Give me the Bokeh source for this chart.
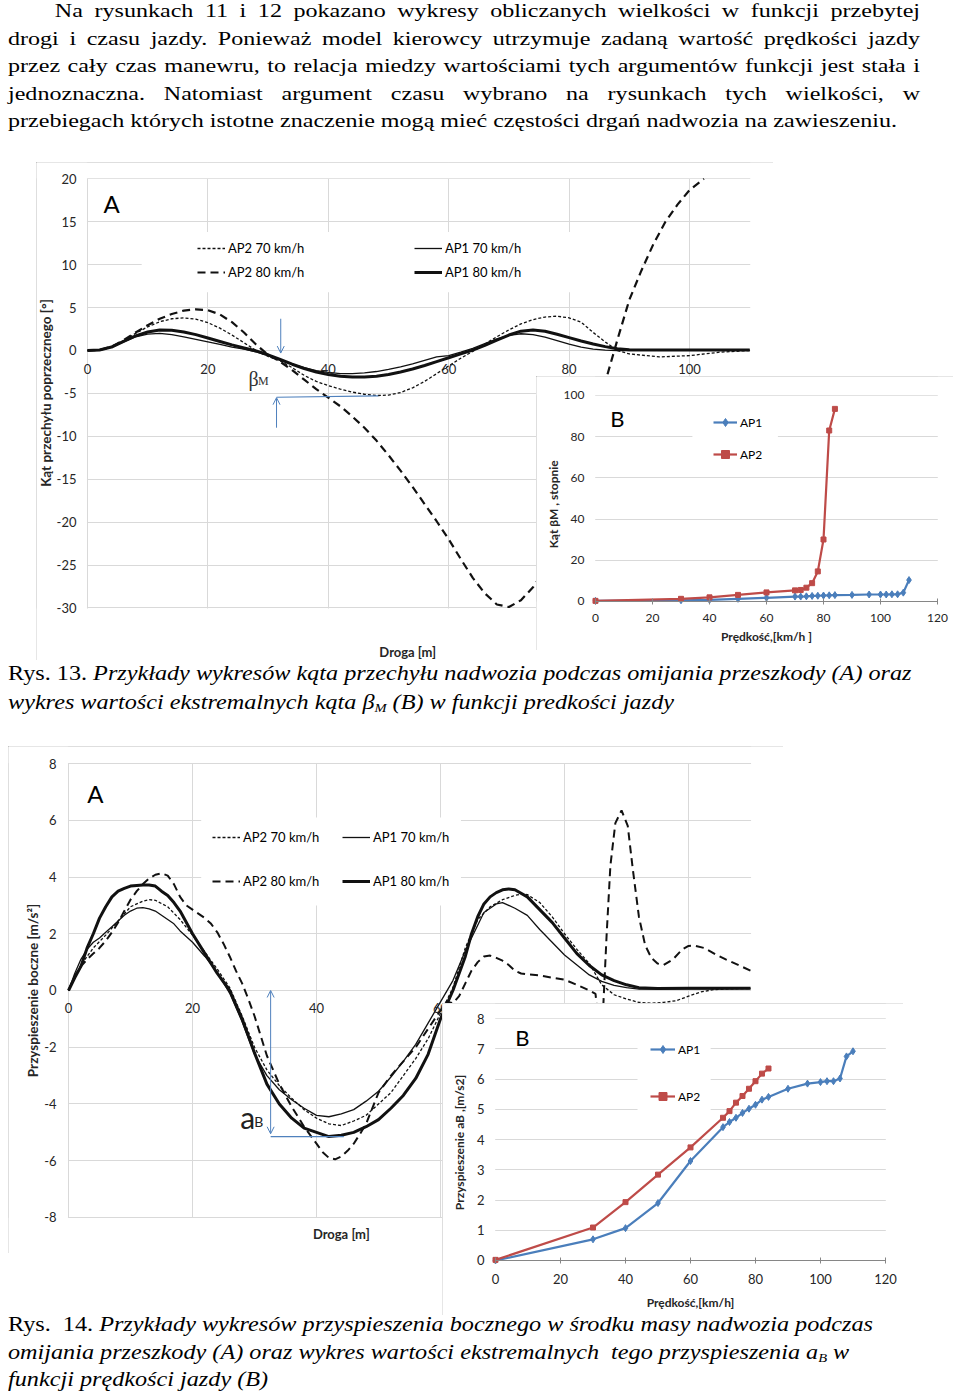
from bokeh.plotting import figure
from bokeh.models import (Range1d, LinearAxis, FixedTicker, Grid, Legend, LegendItem,
                          Label, Arrow, OpenHead, BoxAnnotation, Div)
from bokeh.layouts import column
from bokeh.embed import file_html
from bokeh.resources import INLINE

# ------------------------------------------------------------------ texts
PARA_LINES = [
    "Na rysunkach 11 i 12 pokazano wykresy obliczanych wielkości w funkcji przebytej",
    "drogi i czasu jazdy. Ponieważ model kierowcy utrzymuje zadaną wartość prędkości jazdy",
    "przez cały czas manewru, to relacja miedzy wartościami tych argumentów funkcji jest stała i",
    "jednoznaczna. Natomiast argument czasu wybrano na rysunkach tych wielkości, w",
    "przebiegach których istotne znaczenie mogą mieć częstości drgań nadwozia na zawieszeniu.",
]

# ------------------------------------------------------------------ Rys. 13 A  (kąt przechyłu vs droga)
x13 = [0, 2, 4, 6, 8, 10, 12, 14, 16, 18, 20, 22, 24, 26, 28, 30, 32, 34, 36, 38,
       40, 42, 44, 46, 48, 50, 52, 54, 56, 58, 60, 62, 64, 66, 68, 70, 72, 74, 76, 78,
       80, 82, 84, 86, 88, 90, 95, 100, 105, 110]
ap1_70_13 = [0, 0.05, 0.4, 1.0, 1.6, 1.9, 2.0, 1.85, 1.6, 1.3, 1.0, 0.7, 0.4, 0.15, -0.15,
             -0.6, -1.1, -1.6, -2.0, -2.35, -2.55, -2.7, -2.7, -2.6, -2.45, -2.2, -1.9, -1.55,
             -1.15, -0.75, -0.6, -0.2, 0.25, 0.8, 1.35, 1.75, 1.95, 1.85, 1.55, 1.15, 0.75,
             0.4, 0.15, 0.05, 0.0, 0.0, 0.02, 0.03, 0.03, 0.03]
ap1_80_13 = [0, 0.05, 0.4, 1.05, 1.7, 2.15, 2.4, 2.35, 2.15, 1.85, 1.45, 1.05, 0.65, 0.3, -0.05,
             -0.5, -1.05, -1.6, -2.1, -2.5, -2.8, -3.0, -3.1, -3.1, -3.0, -2.8, -2.5, -2.15,
             -1.75, -1.3, -0.85, -0.4, 0.05, 0.6, 1.2, 1.8, 2.25, 2.4, 2.25, 1.9, 1.5, 1.1,
             0.75, 0.45, 0.2, 0.08, 0.05, 0.05, 0.05, 0.05]
ap2_70_13 = [0, 0.05, 0.45, 1.15, 2.0, 2.75, 3.35, 3.7, 3.8, 3.65, 3.25, 2.6, 1.8, 0.9, 0.0,
             -0.7, -1.2, -2.0, -2.9, -3.6, -4.1, -4.5, -4.85, -5.1, -5.25, -5.2, -4.9, -4.35,
             -3.6, -2.7, -1.8, -0.9, -0.1, 0.75, 1.6, 2.4, 3.1, 3.6, 3.9, 4.0, 3.8, 3.3, 2.1,
             1.0, 0.0, -0.4, -0.75, -0.6, -0.2, 0.0]
x13_ap2_80 = [0, 2, 4, 6, 8, 10, 12, 14, 16, 18, 20, 22, 24, 26, 28, 30, 32, 34, 36, 38,
              40, 42, 44, 46, 48, 50, 52, 54, 56, 58, 60, 62, 64, 66, 68, 70, 72, 74, 76, 78,
              80, 82, 84, 86, 88, 90, 92, 94, 96, 98, 100, 102, 102.4]
ap2_80_13 = [0, 0.05, 0.45, 1.2, 2.1, 2.95, 3.7, 4.25, 4.65, 4.8, 4.7, 4.2, 3.3, 2.1, 0.7,
             -0.5, -1.3, -2.3, -3.4, -4.5, -5.5, -6.5, -7.7, -9.0, -10.5, -12.2, -14.0, -15.9,
             -17.9, -19.9, -22.0, -24.3, -26.5, -28.3, -29.6, -29.9, -29.1, -27.6, -25.5, -22.6,
             -18.9, -14.6, -9.8, -3.7, 1.2, 5.9, 9.3, 12.4, 15.0, 17.0, 18.7, 19.8, 20.0]
ticks13_x = [0, 20, 40, 60, 80, 100]
ticks13_y = [-30, -25, -20, -15, -10, -5, 0, 5, 10, 15, 20]

# ------------------------------------------------------------------ Rys. 13 B  (beta_M vs prędkość)
v13_ap1 = [0, 30, 40, 50, 60, 70, 72, 74, 76, 78, 80, 82, 84, 90, 96, 100, 102, 104, 106, 108, 110]
b13_ap1 = [0.3, 0.6, 0.8, 1.3, 1.8, 2.4, 2.4, 2.5, 2.7, 2.8, 2.9, 3.0, 3.1, 3.2, 3.4, 3.4, 3.4,
           3.5, 3.5, 4.3, 10.4]
v13_ap2 = [0, 30, 40, 50, 60, 70, 72, 74, 76, 78, 80, 82, 84]
b13_ap2 = [0.3, 1.3, 2.0, 3.2, 4.4, 5.4, 5.6, 6.7, 8.9, 14.6, 30.1, 83.0, 93.5]
ticks13b_x = [0, 20, 40, 60, 80, 100, 120]
ticks13b_y = [0, 20, 40, 60, 80, 100]

# ------------------------------------------------------------------ Rys. 14 A  (przyspieszenie vs droga)
x14_ap1_80 = [0, 1, 2, 3, 4, 5, 6, 7, 8, 9, 10, 11, 12, 13, 14, 15, 16, 17, 18,
              20, 22, 24, 26, 28, 30, 32, 34, 36, 38, 40, 42, 44, 46, 48, 50, 52, 54, 56, 58, 60,
              62, 64, 65, 66, 67, 68, 69, 70, 71, 72,
              74, 76, 78, 80, 82, 84, 86, 88, 90, 92, 95, 100, 105, 110]
a14_ap1_80 = [0, 0.45, 0.85, 1.5, 2.0, 2.55, 2.95, 3.3, 3.5, 3.6,
              3.68, 3.7, 3.72, 3.72, 3.68, 3.5, 3.35, 3.1, 2.8,
              2.0, 1.3, 0.6, 0.0, -1.0, -2.2, -3.3, -4.0, -4.5, -4.85,
              -5.0, -5.15, -5.1, -5.0, -4.8, -4.55, -4.15, -3.7, -3.1, -2.25, -1.0,
              0.0, 1.2, 2.0, 2.6, 3.05, 3.3, 3.45, 3.55, 3.58, 3.55,
              3.3, 2.85, 2.4, 1.85, 1.3, 0.88, 0.55, 0.35, 0.2, 0.1, 0.07, 0.08, 0.08, 0.08]
x14_ap1_70 = [0, 1, 2, 3, 4, 5, 6, 7, 8, 9, 10, 11, 12, 13, 14, 15, 16, 17, 18,
              20, 22, 24, 26, 28, 30, 32, 34, 36, 38, 40, 42, 44, 46, 48, 50, 52, 54, 56, 58, 60,
              62, 64, 66, 67, 68, 69, 70,
              72, 74, 76, 78, 80, 82, 84, 86, 88, 90, 92, 95, 100, 105, 110]
a14_ap1_70 = [0, 0.6, 1.1, 1.45, 1.7, 1.85, 2.05, 2.25, 2.45, 2.65,
              2.8, 2.9, 2.92, 2.88, 2.8, 2.65, 2.5, 2.35, 2.1,
              1.7, 1.2, 0.65, -0.1, -1.1, -2.25, -3.0, -3.5, -3.85, -4.15,
              -4.4, -4.45, -4.35, -4.2, -3.9, -3.55, -3.05, -2.5, -1.9, -1.15, -0.4,
              0.35, 1.4, 2.3, 2.75, 2.9, 3.05, 3.1,
              2.9, 2.65, 2.15, 1.7, 1.25, 0.9, 0.55, 0.32, 0.18, 0.1, 0.05, 0.05, 0.06, 0.06, 0.07]
x14_ap2_70 = [0, 2, 4, 6, 8, 10, 12, 13, 14,
              16, 18, 20, 22, 24, 26, 28, 30, 32, 34, 36, 38, 40, 42, 44, 46, 48, 50, 52, 54, 56,
              58, 60, 62, 64, 66, 68, 70, 72, 73,
              74, 76, 78, 80, 82, 84, 86, 88, 90, 92, 94, 96, 98, 100, 102, 104, 107, 110]
a14_ap2_70 = [0, 0.9, 1.5, 1.95, 2.45, 2.95, 3.15, 3.2, 3.18,
              2.95, 2.5, 1.95, 1.35, 0.75, 0.1, -0.9, -2.0, -2.8, -3.35, -3.8, -4.2, -4.5, -4.7,
              -4.76, -4.6, -4.4, -4.0, -3.6, -3.0, -2.4, -1.7, -0.8, 0.1, 1.5, 2.5, 2.95, 3.2,
              3.35, 3.4,
              3.38, 3.1, 2.6, 2.0, 1.45, 0.95, 0.2, -0.15, -0.3, -0.42, -0.45, -0.42, -0.36, -0.2,
              -0.05, 0.03, 0.06, 0.07]
x14_ap2_80 = [0, 1, 2, 3, 4, 5, 6, 7, 8, 9, 10, 11, 12, 13, 14, 15, 16, 17, 18, 19,
              20, 21, 22, 23, 24, 25, 26, 27, 28, 29, 30, 32, 34, 36, 38, 40,
              41, 42, 43, 44, 45, 46, 47, 48, 50, 52, 54, 56, 58, 60,
              61, 62, 63, 64, 65, 66, 67, 68, 69, 70, 71, 72, 73, 74, 76, 78, 80, 82, 84, 85,
              85.6, 86.2, 86.8, 87.4, 88.2, 89.2, 90.2, 91, 92, 93, 94, 95, 96,
              97.5, 99, 100, 101, 102.5, 104.3, 106, 108, 110]
a14_ap2_80 = [0, 0.5, 0.85, 1.1, 1.3, 1.5, 1.75, 2.05, 2.4, 2.8,
              3.2, 3.5, 3.75, 3.95, 4.08, 4.13, 4.05, 3.75, 3.3, 3.0,
              2.85, 2.7, 2.55, 2.35, 2.05, 1.65, 1.2, 0.7, 0.25, -0.3, -0.9,
              -2.3, -3.3, -4.1, -4.8, -5.4,
              -5.7, -5.9, -5.95, -5.85, -5.65, -5.4, -5.06, -4.7,
              -3.6, -3.0, -2.5, -2.0, -1.35, -0.7,
              -0.4, -0.45, -0.2, 0.25, 0.7, 1.0, 1.2, 1.23, 1.15, 1.05, 0.9, 0.7, 0.6, 0.57,
              0.53, 0.45, 0.38, 0.2, 0.0, -0.12,
              -1.4, -0.8, 2.0, 4.4, 5.9, 6.35, 5.8, 4.3, 2.6, 1.6, 1.15, 0.95, 0.9,
              1.1, 1.45, 1.57, 1.58, 1.5, 1.28, 1.1, 0.9, 0.7]
ticks14_x = [0, 20, 40, 60, 80, 100]
ticks14_y = [-8, -6, -4, -2, 0, 2, 4, 6, 8]

# ------------------------------------------------------------------ Rys. 14 B  (a_B vs prędkość)
v14_ap1 = [0, 30, 40, 50, 60, 70, 72, 74, 76, 78, 80, 82, 84, 90, 96, 100, 102, 104, 106, 108, 110]
a14b_ap1 = [0.0, 0.7, 1.07, 1.9, 3.29, 4.41, 4.58, 4.72, 4.88, 5.02, 5.15, 5.32, 5.41, 5.68,
            5.85, 5.9, 5.93, 5.93, 6.02, 6.75, 6.92]
v14_ap2 = [0, 30, 40, 50, 60, 70, 72, 74, 76, 78, 80, 82, 84]
a14b_ap2 = [0.02, 1.09, 1.93, 2.84, 3.74, 4.72, 4.94, 5.22, 5.44, 5.68, 5.93, 6.18, 6.35]
ticks14b_x = [0, 20, 40, 60, 80, 100, 120]
ticks14b_y = [0, 1, 2, 3, 4, 5, 6, 7, 8]

# ------------------------------------------------------------------ annotation positions (data units)
beta_arrow_down = [32.1, 3.7, 32.1, -0.3]
beta_arrow_up = [31.4, -9.0, 31.4, -5.5]
beta_line = [31.4, -5.45, 48.3, -5.3]
aB_arrow = [32.6, 0.0, 32.6, -5.05]
aB_line = [32.6, -5.15, 44.4, -5.15]

# ------------------------------------------------------------------ styles
FONT = "Lato"
GRID = "#d9d9d9"
TXT = "#262626"
AXC = "#868686"
BLUE = "#4a7ebb"
RED = "#be4b48"
ANN = "#4f81bd"
BLACK = "#111111"


def base(w, h, xr, yr, margin):
    p = figure(width=w, height=h, frame_width=w, frame_height=h,
               x_range=Range1d(*xr), y_range=Range1d(*yr),
               output_backend="svg", toolbar_location=None,
               x_axis_location=None, y_axis_location=None,
               min_border=0, min_border_left=0, min_border_right=0,
               min_border_top=0, min_border_bottom=0,
               outline_line_color=None, border_fill_color="white", background_fill_color="white",
               margin=margin,
               styles={"outline": "1px solid #a6a6a6", "outline-offset": "-1px"})
    p.grid.visible = False
    return p


def add_grid(p, dim, ticks):
    p.add_layout(Grid(dimension=dim, ticker=FixedTicker(ticks=ticks),
                      grid_line_color=GRID, grid_line_width=1))


def add_mask(p, left, right, bottom, top):
    p.add_layout(BoxAnnotation(left=left, right=right, bottom=bottom, top=top,
                               fill_color="white", fill_alpha=1, line_color=None,
                               level="underlay"))


def frame_masks(p, xr, yr, area):
    x0, x1, y0, y1 = area
    add_mask(p, xr[0], x0 - (x1 - x0) * 0.0008, yr[0], yr[1])
    add_mask(p, x1 + (x1 - x0) * 0.0008, xr[1], yr[0], yr[1])
    add_mask(p, xr[0], xr[1], yr[0], y0 - (y1 - y0) * 0.0012)
    add_mask(p, xr[0], xr[1], y1 + (y1 - y0) * 0.0012, yr[1])


def add_axis(p, side, ticks, size, standoff, bounds, label=None, lsize="12px", lstand=5,
             fixed=0, line=False, tick=False):
    ax = LinearAxis(ticker=FixedTicker(ticks=ticks), bounds=bounds, fixed_location=fixed,
                    major_label_text_font=FONT, major_label_text_font_size=size,
                    major_label_text_color=TXT, major_label_standoff=standoff,
                    major_label_overrides={t: str(t) for t in ticks if t < 0},
                    minor_tick_line_color=None, minor_tick_in=0, minor_tick_out=0,
                    axis_line_color=AXC if line else None,
                    major_tick_line_color=AXC if tick else None,
                    major_tick_in=3 if tick else 0, major_tick_out=3 if tick else 0)
    if label:
        ax.axis_label = label
        ax.axis_label_text_font = FONT
        ax.axis_label_text_font_style = "bold"
        ax.axis_label_text_font_size = lsize
        ax.axis_label_text_color = TXT
        ax.axis_label_standoff = lstand
    p.add_layout(ax, side)


def add_legend(p, items, loc, gw, gh, spacing, size):
    lg = Legend(items=[LegendItem(label=t, renderers=r) for t, r in items],
                location=loc, orientation="vertical",
                glyph_width=gw, glyph_height=gh, label_height=gh, spacing=spacing,
                padding=0, margin=0, label_standoff=3,
                label_text_font=FONT, label_text_font_size=size, label_text_color="#000",
                background_fill_alpha=0, border_line_color=None)
    p.add_layout(lg)


def text_label(p, x, y, t, size, font=FONT, style="normal", color="#000"):
    p.add_layout(Label(x=x, y=y, text=t, text_font=font, text_font_size=size,
                       text_font_style=style, text_color=color,
                       text_align="center", text_baseline="middle"))


# ================================================================== Rys. 13 A
XR13A, YR13A = (-8.47, 113.95), (-36.13, 21.91)
pA = base(737, 498, XR13A, YR13A, (26, 0, 0, 36))
add_grid(pA, 0, ticks13_x)
add_grid(pA, 1, ticks13_y)
frame_masks(pA, XR13A, YR13A, (0, 110, -30, 20))
add_mask(pA, 9, 92, 6.8, 13.8)
add_axis(pA, "left", ticks13_y, "13px", 11, (-30, 20), label="Kąt przechyłu poprzecznego [°]",
         lsize="13.5px", lstand=0)
add_axis(pA, "below", ticks13_x, "13px", 14, (0, 110))
r1 = pA.line(x13, ap2_70_13, line_color=BLACK, line_width=1.3, line_dash="3 2")
r2 = pA.line(x13_ap2_80, ap2_80_13, line_color=BLACK, line_width=2.2, line_dash="8 5")
r3 = pA.line(x13, ap1_70_13, line_color=BLACK, line_width=1.3)
r4 = pA.line(x13, ap1_80_13, line_color=BLACK, line_width=3)
add_legend(pA, [("AP2 70 km/h", [r1]), ("AP2 80 km/h", [r2])], (161, 378), 28, 20, 4, "13px")
add_legend(pA, [("AP1 70 km/h", [r3]), ("AP1 80 km/h", [r4])], (378, 378), 28, 20, 4, "13px")
text_label(pA, 4.0, 17.1, "A", "24px")
text_label(pA, 53.2, -35.1, "Droga [m]", "13px", style="bold", color=TXT)
pA.add_layout(Arrow(x_start=beta_arrow_down[0], y_start=beta_arrow_down[1],
                    x_end=beta_arrow_down[2], y_end=beta_arrow_down[3],
                    end=OpenHead(size=7, line_color=ANN, line_width=1),
                    line_color=ANN, line_width=1))
pA.add_layout(Arrow(x_start=beta_arrow_up[0], y_start=beta_arrow_up[1],
                    x_end=beta_arrow_up[2], y_end=beta_arrow_up[3],
                    end=OpenHead(size=7, line_color=ANN, line_width=1),
                    line_color=ANN, line_width=1))
pA.add_layout(Arrow(x_start=beta_line[0], y_start=beta_line[1], x_end=beta_line[2],
                    y_end=beta_line[3], end=None, line_color=ANN, line_width=1.2))
text_label(pA, 27.6, -3.3, "β", "20px", font="Liberation Serif", color="#333")
text_label(pA, 29.2, -3.6, "M", "12px", font="Liberation Serif", color="#333")

# ================================================================== Rys. 13 B
XR13B, YR13B = (-20.70, 125.61), (-23.79, 109.22)
pB = base(417, 274, XR13B, YR13B, (-284, 0, 0, 536))
add_grid(pB, 1, ticks13b_y)
frame_masks(pB, XR13B, YR13B, (0, 120, 0, 100))
add_mask(pB, 34, 64, 65, 95)
add_axis(pB, "left", ticks13b_y, "12px", 11, (0, 100), label="Kąt   βM   , stopnie",
         lsize="12px", lstand=0)
add_axis(pB, "below", ticks13b_x, "12px", 10, (0, 120), label="Prędkość,[km/h ]",
         lsize="12px", lstand=3, line=True, tick=True)
rb1 = pB.line(v13_ap1, b13_ap1, line_color=BLUE, line_width=2.2)
rb1m = pB.scatter(v13_ap1, b13_ap1, marker="diamond", size=7, fill_color=BLUE, line_color=BLUE)
rb2 = pB.line(v13_ap2, b13_ap2, line_color=RED, line_width=2.2)
rb2m = pB.scatter(v13_ap2, b13_ap2, marker="square", size=5, fill_color=RED, line_color=RED)
add_legend(pB, [("AP1", [rb1, rb1m]), ("AP2", [rb2, rb2m])], (177, 186), 24, 20, 12, "12px")
text_label(pB, 7.7, 88.8, "B", "22px")

# ================================================================== Rys. 14 A
XR14A, YR14A = (-9.68, 115.32), (-9.27, 8.60)
pC = base(775, 507, XR14A, YR14A, (28, 0, 0, 8))
add_grid(pC, 0, ticks14_x)
add_grid(pC, 1, ticks14_y)
frame_masks(pC, XR14A, YR14A, (0, 110, -8, 8))
add_mask(pC, 21.4, 63.3, 3.0, 6.1)
add_axis(pC, "left", ticks14_y, "13px", 12, (-8, 8), label="Przyspieszenie boczne [m/s²]",
         lsize="13.5px", lstand=0)
add_axis(pC, "below", ticks14_x, "13px", 13, (0, 110))
c1 = pC.line(x14_ap2_70, a14_ap2_70, line_color=BLACK, line_width=1.3, line_dash="3 2")
c2 = pC.line(x14_ap2_80, a14_ap2_80, line_color=BLACK, line_width=2.0, line_dash="8 5")
c3 = pC.line(x14_ap1_70, a14_ap1_70, line_color=BLACK, line_width=1.3)
c4 = pC.line(x14_ap1_80, a14_ap1_80, line_color=BLACK, line_width=3)
add_legend(pC, [("AP2 70 km/h", [c1]), ("AP2 80 km/h", [c2])], (204, 362), 28, 20, 24, "13px")
add_legend(pC, [("AP1 70 km/h", [c3]), ("AP1 80 km/h", [c4])], (334, 362), 28, 20, 24, "13px")
text_label(pC, 4.35, 6.94, "A", "24px")
text_label(pC, 44.0, -8.6, "Droga [m]", "13px", style="bold", color=TXT)
pC.add_layout(Arrow(x_start=aB_arrow[0], y_start=aB_arrow[1], x_end=aB_arrow[2],
                    y_end=aB_arrow[3],
                    start=OpenHead(size=7, line_color=ANN, line_width=1),
                    end=OpenHead(size=7, line_color=ANN, line_width=1),
                    line_color=ANN, line_width=1))
pC.add_layout(Arrow(x_start=aB_line[0], y_start=aB_line[1], x_end=aB_line[2],
                    y_end=aB_line[3], end=None, line_color=ANN, line_width=1.2))
text_label(pC, 28.9, -4.45, "a", "30px", color="#222")
text_label(pC, 30.7, -4.6, "B", "14px", color="#222")

# ================================================================== Rys. 14 B
XR14B, YR14B = (-16.31, 125.54), (-1.82, 8.50)
pD = base(461, 312, XR14B, YR14B, (-250, 0, 0, 442))
add_grid(pD, 1, ticks14b_y)
frame_masks(pD, XR14B, YR14B, (0, 120, 0, 8))
add_mask(pD, 43.7, 66.2, 4.8, 7.5)
add_axis(pD, "left", ticks14b_y, "13px", 11, (0, 8), label="Przyspieszenie   aB ,[m/s2]",
         lsize="12px", lstand=7)
add_axis(pD, "below", ticks14b_x, "13px", 11, (0, 120), label="Prędkość,[km/h]",
         lsize="12px", lstand=7, line=True, tick=True)
d1 = pD.line(v14_ap1, a14b_ap1, line_color=BLUE, line_width=2.2)
d1m = pD.scatter(v14_ap1, a14b_ap1, marker="diamond", size=7, fill_color=BLUE, line_color=BLUE)
d2 = pD.line(v14_ap2, a14b_ap2, line_color=RED, line_width=2.2)
d2m = pD.scatter(v14_ap2, a14b_ap2, marker="square", size=5, fill_color=RED, line_color=RED)
add_legend(pD, [("AP1", [d1, d1m]), ("AP2", [d2, d2m])], (208, 209), 25, 20, 27, "12px")
text_label(pD, 8.3, 7.37, "B", "22px")

# ================================================================== text blocks
SERIF = "font-family:'Liberation Serif','Times New Roman',serif;color:#000;"
para_html = ('<div style="width:720px;transform:scaleX(1.2667);transform-origin:0 0;'
             + SERIF + 'font-size:19px;line-height:27.6px;">')
for i, ln in enumerate(PARA_LINES):
    if i < len(PARA_LINES) - 1:
        ind = "text-indent:37px;" if i == 0 else ""
        para_html += ('<div style="text-align:justify;text-align-last:justify;' + ind + '">'
                      + ln + '</div>')
    else:
        para_html += '<div>' + ln + '</div>'
para_html += '</div>'

SUB = '<span style="font-size:12px;vertical-align:-3px;line-height:0;">{}</span>'
cap13_html = ('<div style="white-space:nowrap;transform:scaleX(1.21);transform-origin:0 0;'
              + SERIF + 'font-size:20px;line-height:29.3px;">'
              'Rys. 13. <i>Przykłady wykresów kąta przechyłu nadwozia podczas omijania '
              'przeszkody (A) oraz</i><br>'
              '<i>wykres wartości ekstremalnych kąta β' + SUB.format("M")
              + ' (B) w funkcji predkości jazdy</i></div>')
cap14_html = ('<div style="white-space:nowrap;transform:scaleX(1.21);transform-origin:0 0;'
              + SERIF + 'font-size:20px;line-height:27.5px;">'
              'Rys.&nbsp; 14. <i>Przykłady wykresów przyspieszenia bocznego w środku masy '
              'nadwozia podczas</i><br>'
              '<i>omijania przeszkody (A) oraz wykres wartości ekstremalnych&nbsp; tego '
              'przyspieszenia a' + SUB.format("B") + ' w</i><br>'
              '<i>funkcji prędkości jazdy (B)</i></div>')

para = Div(text=para_html, width=912, height=139, margin=(-3, 0, 0, 8),
           styles={"overflow": "visible"})
cap13 = Div(text=cap13_html, width=912, height=59, margin=(9, 0, 0, 8),
            styles={"overflow": "visible"})
cap14 = Div(text=cap14_html, width=912, height=83, margin=(-4, 0, 0, 8),
            styles={"overflow": "visible"})

page = column(para, pA, pB, cap13, pC, pD, cap14, spacing=0)

with open("out.html", "w") as f:
    f.write(file_html(page, INLINE, title="Rys. 13-14"))
